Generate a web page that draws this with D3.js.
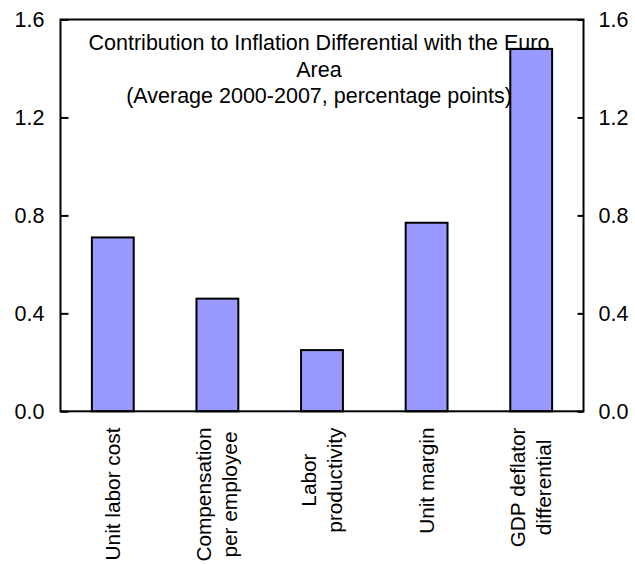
<!DOCTYPE html>
<html>
<head>
<meta charset="utf-8">
<script src="https://cdn.jsdelivr.net/npm/d3@7"></script>
<style>
  html, body { margin: 0; padding: 0; background: #fff; }
  text { font-family: 'Liberation Sans', Arial, sans-serif; }
</style>
</head>
<body>
<div id="chart"></div>
<script>
const categories = [
  'Unit labor cost',
  'Compensation\nper employee',
  'Labor\nproductivity',
  'Unit margin',
  'GDP deflator\ndifferential',
];
const values = [0.71, 0.46, 0.25, 0.77, 1.48];
const tickValues = [0, 0.4, 0.8, 1.2, 1.6];
const titleLines = [
  'Contribution to Inflation Differential with the Euro',
  'Area',
  '(Average 2000-2007, percentage points)',
];

const width = 635;
const height = 564;
const plotLeft = 60.5;
const plotRight = 583.5;
const plotTop = 19.5;
const plotBottom = 411.3;
const fontSize = 21.5;
const labelSize = 20.8;
const lineHeight = 26;

const svg = d3
  .select('#chart')
  .append('svg')
  .attr('width', width)
  .attr('height', height);

const x = d3
  .scaleBand()
  .domain(categories)
  .range([plotLeft, plotRight])
  .paddingInner(0.6)
  .paddingOuter(0.3);

const y = d3.scaleLinear().domain([0, 1.6]).range([plotBottom, plotTop]);

// bars
svg
  .selectAll('.bar')
  .data(values)
  .join('rect')
  .attr('class', 'bar')
  .attr('x', (d, i) => x(categories[i]))
  .attr('y', (d) => y(d))
  .attr('width', x.bandwidth())
  .attr('height', (d) => y(0) - y(d))
  .attr('fill', '#9999FF')
  .attr('stroke', '#000')
  .attr('stroke-width', 2);

// axes, ticks pointing inward
const leftAxis = d3
  .axisLeft(y)
  .tickValues(tickValues)
  .tickSize(-8)
  .tickPadding(16)
  .tickFormat(d3.format('.1f'));
const rightAxis = d3
  .axisRight(y)
  .tickValues(tickValues)
  .tickSize(-6)
  .tickPadding(15)
  .tickFormat(d3.format('.1f'));

[
  [leftAxis, plotLeft],
  [rightAxis, plotRight],
].forEach(([axis, pos]) => {
  const g = svg
    .append('g')
    .attr('transform', `translate(${pos},0)`)
    .call(axis);
  g.select('.domain').remove();
  g.selectAll('.tick line').attr('stroke', '#000').attr('stroke-width', 2);
  g.selectAll('.tick text')
    .attr('font-size', fontSize)
    .attr('font-family', "'Liberation Sans', Arial, sans-serif")
    .attr('fill', '#000');
});

// plot frame
svg
  .append('rect')
  .attr('x', plotLeft)
  .attr('y', plotTop)
  .attr('width', plotRight - plotLeft)
  .attr('height', plotBottom - plotTop)
  .attr('fill', 'none')
  .attr('stroke', '#000')
  .attr('stroke-width', 2);

// category labels, rotated and top aligned under the axis
const labelTop = 427.5;
categories.forEach((c) => {
  const lines = c.split('\n');
  const g = svg
    .append('g')
    .attr(
      'transform',
      `translate(${x(c) + x.bandwidth() / 2},${labelTop}) rotate(-90)`
    );
  const texts = g
    .selectAll('text')
    .data(lines)
    .join('text')
    .attr('font-size', labelSize)
    .attr('text-anchor', 'middle')
    .attr('y', (d, i) => (i - (lines.length - 1) / 2) * lineHeight + 7)
    .text((d) => d);
  const maxLen = d3.max(texts.nodes(), (n) => n.getComputedTextLength());
  texts.attr('x', -maxLen / 2);
});

// title
svg
  .append('g')
  .selectAll('text')
  .data(titleLines)
  .join('text')
  .attr('x', 319)
  .attr('y', (d, i) => 50 + i * 26.5)
  .attr('text-anchor', 'middle')
  .attr('font-size', fontSize)
  .text((d) => d);
</script>
</body>
</html>
